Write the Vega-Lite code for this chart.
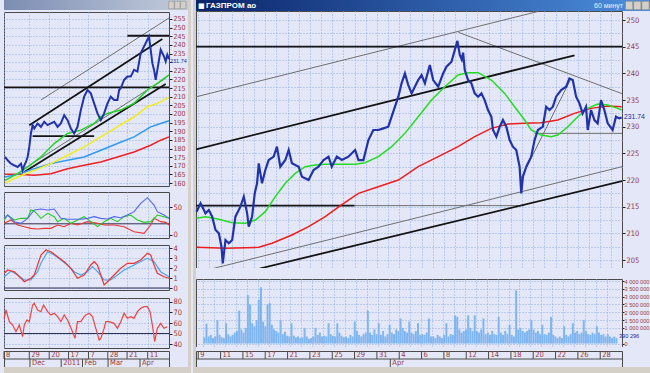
{
  "$schema": "https://vega.github.io/schema/vega-lite/v6.json",
  "background": "#E3E7F7",
  "padding": 0,
  "autosize": {"type": "pad"},
  "config": {
    "view": {"fill": "#E3E7F7", "stroke": "#4A4A4A", "strokeWidth": 1},
    "axis": {"labelFont": "Liberation Sans Narrow, DejaVu Sans Condensed, Liberation Sans, sans-serif", "labelFontSize": 7.5, "labelColor": "#9B3B3B", "tickColor": "#222222", "tickSize": 3, "domain": false, "gridColor": "#8FADE6", "gridDash": [1, 2], "gridOpacity": 1, "labelOverlap": false, "labelFlush": false, "labelBound": false, "labelPadding": 1},
    "text": {"font": "Liberation Sans Narrow, DejaVu Sans Condensed, Liberation Sans, sans-serif"},
    "locale": {"number": {"decimal": ".", "thousands": " ", "grouping": [3], "currency": ["", ""]}}
  },
  "datasets": {
    "rPrice": [{"t":-0.15,"v":214.06},{"t":0.21,"v":215.63},{"t":0.65,"v":213.75},{"t":0.95,"v":214.38},{"t":1.25,"v":213.13},{"t":1.55,"v":210.63},{"t":1.85,"v":210.0},{"t":2.08,"v":207.5},{"t":2.2,"v":204.38},{"t":2.44,"v":208.75},{"t":2.74,"v":208.13},{"t":3.04,"v":208.75},{"t":3.33,"v":213.13},{"t":3.78,"v":215.0},{"t":4.08,"v":216.88},{"t":4.38,"v":213.75},{"t":4.52,"v":211.25},{"t":4.82,"v":213.13},{"t":5.06,"v":217.5},{"t":5.27,"v":219.38},{"t":5.42,"v":223.13},{"t":5.71,"v":219.38},{"t":6.01,"v":221.88},{"t":6.31,"v":223.75},{"t":6.76,"v":224.38},{"t":7.05,"v":226.25},{"t":7.35,"v":222.5},{"t":7.8,"v":223.75},{"t":8.1,"v":225.63},{"t":8.39,"v":223.13},{"t":8.99,"v":222.5},{"t":9.29,"v":220.63},{"t":9.88,"v":220.0},{"t":10.33,"v":221.88},{"t":10.77,"v":222.5},{"t":11.22,"v":223.75},{"t":11.67,"v":224.38},{"t":11.96,"v":222.5},{"t":12.41,"v":224.38},{"t":12.86,"v":223.75},{"t":13.45,"v":224.38},{"t":14.05,"v":225.63},{"t":14.35,"v":223.75},{"t":14.79,"v":223.75},{"t":15.09,"v":226.25},{"t":15.24,"v":227.5},{"t":15.68,"v":229.38},{"t":16.13,"v":229.38},{"t":16.58,"v":229.69},{"t":17.02,"v":230.0},{"t":17.32,"v":231.88},{"t":17.62,"v":233.75},{"t":17.92,"v":235.63},{"t":18.21,"v":238.13},{"t":18.51,"v":240.0},{"t":18.81,"v":237.81},{"t":19.11,"v":236.25},{"t":19.4,"v":237.5},{"t":19.7,"v":238.75},{"t":20.0,"v":239.69},{"t":20.3,"v":238.13},{"t":20.74,"v":241.56},{"t":21.04,"v":238.75},{"t":21.49,"v":237.5},{"t":21.93,"v":240.0},{"t":22.23,"v":241.25},{"t":22.68,"v":242.19},{"t":22.98,"v":244.4},{"t":23.21,"v":246.1},{"t":23.42,"v":243.5},{"t":23.6,"v":242.6},{"t":23.72,"v":243.9},{"t":23.87,"v":240.63},{"t":24.17,"v":238.75},{"t":24.46,"v":238.13},{"t":24.76,"v":236.25},{"t":25.06,"v":235.63},{"t":25.36,"v":236.25},{"t":25.65,"v":235.0},{"t":25.95,"v":233.13},{"t":26.25,"v":231.88},{"t":26.4,"v":229.38},{"t":26.7,"v":228.13},{"t":27.0,"v":230.0},{"t":27.29,"v":231.25},{"t":27.59,"v":230.0},{"t":27.89,"v":227.5},{"t":28.18,"v":226.25},{"t":28.48,"v":225.63},{"t":28.78,"v":222.5},{"t":28.93,"v":217.5},{"t":29.08,"v":220.63},{"t":29.38,"v":222.5},{"t":29.82,"v":224.38},{"t":30.12,"v":227.5},{"t":30.42,"v":229.38},{"t":30.86,"v":230.0},{"t":31.16,"v":233.75},{"t":31.46,"v":233.13},{"t":31.76,"v":233.75},{"t":32.05,"v":235.63},{"t":32.5,"v":236.88},{"t":32.95,"v":237.5},{"t":33.24,"v":239.06},{"t":33.54,"v":238.75},{"t":33.84,"v":235.63},{"t":34.14,"v":234.38},{"t":34.43,"v":232.5},{"t":34.73,"v":233.75},{"t":34.88,"v":229.38},{"t":35.18,"v":233.13},{"t":35.48,"v":231.25},{"t":35.77,"v":230.63},{"t":36.07,"v":235.0},{"t":36.37,"v":233.13},{"t":36.67,"v":230.63},{"t":37.11,"v":229.38},{"t":37.41,"v":231.88},{"t":37.71,"v":231.56},{"t":37.92,"v":231.74}],
    "rGreen": [{"t":-0.15,"v":212.81},{"t":0.65,"v":213.13},{"t":1.85,"v":212.63},{"t":3.04,"v":212.0},{"t":4.23,"v":211.88},{"t":5.12,"v":212.5},{"t":6.01,"v":214.06},{"t":6.9,"v":216.88},{"t":7.8,"v":219.38},{"t":8.69,"v":221.25},{"t":9.58,"v":222.5},{"t":10.48,"v":222.81},{"t":11.37,"v":222.94},{"t":12.86,"v":222.94},{"t":14.05,"v":222.94},{"t":14.94,"v":223.25},{"t":16.13,"v":224.38},{"t":17.32,"v":226.25},{"t":18.51,"v":228.75},{"t":19.7,"v":231.88},{"t":20.89,"v":235.0},{"t":22.08,"v":237.5},{"t":23.27,"v":239.69},{"t":24.17,"v":240.13},{"t":25.06,"v":240.13},{"t":26.25,"v":238.75},{"t":27.44,"v":236.25},{"t":28.33,"v":233.75},{"t":29.23,"v":231.25},{"t":29.82,"v":229.38},{"t":30.71,"v":228.44},{"t":31.61,"v":228.13},{"t":32.2,"v":228.44},{"t":33.1,"v":230.0},{"t":33.99,"v":231.88},{"t":34.88,"v":233.44},{"t":35.77,"v":234.25},{"t":36.67,"v":234.06},{"t":37.56,"v":233.44},{"t":37.92,"v":233.13}],
    "rRed": [{"t":-0.15,"v":207.38},{"t":2.44,"v":207.19},{"t":5.42,"v":207.38},{"t":6.61,"v":208.13},{"t":8.39,"v":209.69},{"t":9.88,"v":211.25},{"t":11.37,"v":213.13},{"t":12.86,"v":215.4},{"t":14.35,"v":217.5},{"t":16.13,"v":218.75},{"t":17.92,"v":220.0},{"t":19.7,"v":222.5},{"t":21.49,"v":224.38},{"t":23.27,"v":226.25},{"t":24.76,"v":228.13},{"t":26.25,"v":229.69},{"t":27.74,"v":230.5},{"t":29.23,"v":230.63},{"t":30.71,"v":230.75},{"t":32.2,"v":231.25},{"t":33.69,"v":232.5},{"t":35.18,"v":233.44},{"t":36.67,"v":233.88},{"t":37.92,"v":233.75}],
    "rThick": [{"g":"a","t":-0.2,"v":245},{"g":"a","t":37.95,"v":245},{"g":"b","t":-0.2,"v":215.2},{"g":"b","t":14,"v":215.2},{"g":"c","t":-0.2,"v":225.75},{"g":"c","t":33.7,"v":243.4},{"g":"d","t":5.5,"v":203.4},{"g":"d","t":37.95,"v":219.8}],
    "rThin": [{"g":"e","t":14,"v":215.2},{"g":"e","t":29.2,"v":215.2},{"g":"f","t":0.36,"v":202.9},{"g":"f","t":37.95,"v":222.5},{"g":"h","t":-0.2,"v":235.6},{"g":"h","t":30.4,"v":251.6},{"g":"i","t":23.3,"v":247.7},{"g":"i","t":37.95,"v":236.2},{"g":"j","t":28.9,"v":220.3},{"g":"j","t":33.4,"v":239.1},{"g":"k","t":30.1,"v":228.75},{"g":"k","t":37.95,"v":228.75}],
    "vol": [
      {"t":0.1,"v":400000},{"t":0.3,"v":1270000},{"t":0.5,"v":450000},{"t":0.7,"v":550000},{"t":0.9,"v":350000},
      {"t":1.1,"v":450000},{"t":1.3,"v":1500000},{"t":1.5,"v":550000},{"t":1.7,"v":400000},{"t":1.9,"v":350000},
      {"t":2.1,"v":1300000},{"t":2.3,"v":600000},{"t":2.5,"v":450000},{"t":2.7,"v":550000},{"t":2.9,"v":700000},
      {"t":3.1,"v":800000},{"t":3.3,"v":2100000},{"t":3.5,"v":900000},{"t":3.7,"v":700000},{"t":3.9,"v":1000000},
      {"t":4.1,"v":3100000},{"t":4.3,"v":2500000},{"t":4.5,"v":1300000},{"t":4.7,"v":1100000},{"t":4.9,"v":1500000},
      {"t":5.1,"v":2800000},{"t":5.3,"v":3600000},{"t":5.5,"v":1400000},{"t":5.7,"v":1100000},{"t":5.9,"v":2500000},
      {"t":6.1,"v":2600000},{"t":6.3,"v":1200000},{"t":6.5,"v":900000},{"t":6.7,"v":800000},{"t":6.9,"v":700000},
      {"t":7.1,"v":1500000},{"t":7.3,"v":600000},{"t":7.5,"v":750000},{"t":7.7,"v":500000},{"t":7.9,"v":450000},
      {"t":8.1,"v":1300000},{"t":8.3,"v":500000},{"t":8.5,"v":400000},{"t":8.7,"v":450000},{"t":8.9,"v":350000},
      {"t":9.1,"v":400000},{"t":9.3,"v":1000000},{"t":9.5,"v":450000},{"t":9.7,"v":300000},{"t":9.9,"v":350000},
      {"t":10.1,"v":450000},{"t":10.3,"v":1000000},{"t":10.5,"v":550000},{"t":10.7,"v":700000},{"t":10.9,"v":450000},
      {"t":11.1,"v":500000},{"t":11.3,"v":450000},{"t":11.5,"v":1300000},{"t":11.7,"v":600000},{"t":11.9,"v":500000},
      {"t":12.1,"v":450000},{"t":12.3,"v":1300000},{"t":12.5,"v":700000},{"t":12.7,"v":500000},{"t":12.9,"v":400000},
      {"t":13.1,"v":450000},{"t":13.3,"v":350000},{"t":13.5,"v":550000},{"t":13.7,"v":450000},{"t":13.9,"v":1400000},
      {"t":14.1,"v":800000},{"t":14.3,"v":550000},{"t":14.5,"v":450000},{"t":14.7,"v":600000},{"t":14.9,"v":700000},
      {"t":15.1,"v":2100000},{"t":15.3,"v":700000},{"t":15.5,"v":550000},{"t":15.7,"v":900000},{"t":15.9,"v":600000},
      {"t":16.1,"v":1300000},{"t":16.3,"v":550000},{"t":16.5,"v":800000},{"t":16.7,"v":450000},{"t":16.9,"v":600000},
      {"t":17.1,"v":1200000},{"t":17.3,"v":700000},{"t":17.5,"v":600000},{"t":17.7,"v":900000},{"t":17.9,"v":800000},
      {"t":18.1,"v":1600000},{"t":18.3,"v":1000000},{"t":18.5,"v":800000},{"t":18.7,"v":700000},{"t":18.9,"v":1400000},
      {"t":19.1,"v":700000},{"t":19.3,"v":600000},{"t":19.5,"v":800000},{"t":19.7,"v":1300000},{"t":19.9,"v":550000},
      {"t":20.1,"v":600000},{"t":20.3,"v":550000},{"t":20.5,"v":700000},{"t":20.7,"v":1600000},{"t":20.9,"v":450000},
      {"t":21.1,"v":450000},{"t":21.3,"v":350000},{"t":21.5,"v":550000},{"t":21.7,"v":450000},{"t":21.9,"v":350000},
      {"t":22.1,"v":550000},{"t":22.3,"v":1300000},{"t":22.5,"v":450000},{"t":22.7,"v":600000},{"t":22.9,"v":550000},
      {"t":23.1,"v":1800000},{"t":23.3,"v":1700000},{"t":23.5,"v":900000},{"t":23.7,"v":700000},{"t":23.9,"v":800000},
      {"t":24.1,"v":900000},{"t":24.3,"v":1800000},{"t":24.5,"v":1000000},{"t":24.7,"v":800000},{"t":24.9,"v":1800000},
      {"t":25.1,"v":800000},{"t":25.3,"v":700000},{"t":25.5,"v":900000},{"t":25.7,"v":1600000},{"t":25.9,"v":600000},
      {"t":26.1,"v":700000},{"t":26.3,"v":550000},{"t":26.5,"v":800000},{"t":26.7,"v":600000},{"t":26.9,"v":550000},
      {"t":27.1,"v":1700000},{"t":27.3,"v":700000},{"t":27.5,"v":550000},{"t":27.7,"v":800000},{"t":27.9,"v":600000},
      {"t":28.1,"v":1200000},{"t":28.3,"v":550000},{"t":28.5,"v":450000},{"t":28.7,"v":3400000},{"t":28.9,"v":900000},
      {"t":29.1,"v":1000000},{"t":29.3,"v":800000},{"t":29.5,"v":700000},{"t":29.7,"v":800000},{"t":29.9,"v":900000},
      {"t":30.1,"v":1500000},{"t":30.3,"v":900000},{"t":30.5,"v":700000},{"t":30.7,"v":800000},{"t":30.9,"v":600000},
      {"t":31.1,"v":1200000},{"t":31.3,"v":600000},{"t":31.5,"v":550000},{"t":31.7,"v":700000},{"t":31.9,"v":1700000},
      {"t":32.1,"v":550000},{"t":32.3,"v":450000},{"t":32.5,"v":350000},{"t":32.7,"v":450000},{"t":32.9,"v":350000},
      {"t":33.1,"v":1100000},{"t":33.3,"v":550000},{"t":33.5,"v":450000},{"t":33.7,"v":600000},{"t":33.9,"v":1300000},
      {"t":34.1,"v":700000},{"t":34.3,"v":800000},{"t":34.5,"v":600000},{"t":34.7,"v":700000},{"t":34.9,"v":1500000},
      {"t":35.1,"v":800000},{"t":35.3,"v":600000},{"t":35.5,"v":550000},{"t":35.7,"v":700000},{"t":35.9,"v":600000},
      {"t":36.1,"v":1100000},{"t":36.3,"v":700000},{"t":36.5,"v":550000},{"t":36.7,"v":600000},{"t":36.9,"v":450000},
      {"t":37.1,"v":600000},{"t":37.3,"v":450000},{"t":37.5,"v":350000},{"t":37.7,"v":450000},{"t":37.9,"v":350000}
    ],
    "rDays": [{"t":0,"s":"9"},{"t":2,"s":"11"},{"t":4,"s":"15"},{"t":6,"s":"17"},{"t":8,"s":"21"},{"t":10,"s":"23"},{"t":12,"s":"25"},{"t":14,"s":"29"},{"t":16,"s":"31"},{"t":18,"s":"4"},{"t":20,"s":"6"},{"t":22,"s":"8"},{"t":24,"s":"12"},{"t":26,"s":"14"},{"t":28,"s":"18"},{"t":30,"s":"20"},{"t":32,"s":"22"},{"t":34,"s":"26"},{"t":36,"s":"28"}],
    "rMonths": [{"t":17.2,"s":"Apr"}],
    "lPrice": [{"t":0.75,"v":175.12},{"t":2.75,"v":173.18},{"t":5.25,"v":171.25},{"t":7.75,"v":170.28},{"t":10.25,"v":169.31},{"t":12.75,"v":171.25},{"t":14.0,"v":167.37},{"t":15.25,"v":170.28},{"t":16.5,"v":172.22},{"t":17.75,"v":175.12},{"t":19.0,"v":180.94},{"t":20.25,"v":188.7},{"t":21.5,"v":193.54},{"t":22.75,"v":191.6},{"t":25.25,"v":194.51},{"t":27.75,"v":192.57},{"t":30.25,"v":195.48},{"t":32.75,"v":193.54},{"t":35.25,"v":194.51},{"t":37.75,"v":195.48},{"t":40.25,"v":192.57},{"t":42.75,"v":194.51},{"t":45.25,"v":199.36},{"t":47.75,"v":196.45},{"t":50.25,"v":191.6},{"t":52.75,"v":188.7},{"t":55.25,"v":192.57},{"t":57.75,"v":202.27},{"t":60.25,"v":210.02},{"t":62.75,"v":213.9},{"t":65.25,"v":211.96},{"t":67.75,"v":206.14},{"t":70.25,"v":200.33},{"t":72.75,"v":196.45},{"t":75.25,"v":200.33},{"t":77.75,"v":206.14},{"t":80.25,"v":210.02},{"t":82.75,"v":208.08},{"t":85.25,"v":208.08},{"t":86.5,"v":213.9},{"t":87.75,"v":214.87},{"t":90.25,"v":219.72},{"t":92.75,"v":221.66},{"t":95.25,"v":221.66},{"t":97.75,"v":225.53},{"t":100.25,"v":224.56},{"t":102.75,"v":235.23},{"t":105.25,"v":239.1},{"t":107.75,"v":242.98},{"t":109.0,"v":244.92},{"t":110.25,"v":237.16},{"t":111.5,"v":229.41},{"t":112.75,"v":225.53},{"t":114.0,"v":219.72},{"t":115.25,"v":225.53},{"t":116.5,"v":231.35},{"t":117.75,"v":237.16},{"t":120.25,"v":233.29},{"t":121.5,"v":230.38},{"t":122.75,"v":234.26},{"t":124.0,"v":231.74}],
    "lGreen": [{"t":0.75,"v":161.55},{"t":10.25,"v":165.43},{"t":17.75,"v":169.31},{"t":27.75,"v":175.12},{"t":37.75,"v":182.88},{"t":47.75,"v":188.7},{"t":57.75,"v":190.63},{"t":67.75,"v":194.51},{"t":72.75,"v":198.39},{"t":77.75,"v":200.33},{"t":87.75,"v":202.27},{"t":97.75,"v":206.14},{"t":107.75,"v":213.9},{"t":115.25,"v":217.78},{"t":124,"v":222.62}],
    "lYellow": [{"t":0.75,"v":160.0},{"t":10.25,"v":163.49},{"t":22.75,"v":167.37},{"t":35.25,"v":171.25},{"t":47.75,"v":176.09},{"t":60.25,"v":180.94},{"t":72.75,"v":186.76},{"t":85.25,"v":192.57},{"t":97.75,"v":198.39},{"t":107.75,"v":204.2},{"t":115.25,"v":206.14},{"t":124,"v":209.63}],
    "lBlue": [{"t":0.75,"v":163.49},{"t":10.25,"v":165.04},{"t":22.75,"v":168.34},{"t":35.25,"v":171.25},{"t":47.75,"v":173.18},{"t":60.25,"v":175.12},{"t":72.75,"v":179.0},{"t":85.25,"v":182.88},{"t":97.75,"v":186.76},{"t":110.25,"v":192.57},{"t":117.75,"v":194.51},{"t":124,"v":196.06}],
    "lRed": [{"t":0.75,"v":165.04},{"t":10.25,"v":165.04},{"t":22.75,"v":164.46},{"t":35.25,"v":165.43},{"t":47.75,"v":168.34},{"t":60.25,"v":170.28},{"t":72.75,"v":172.22},{"t":85.25,"v":175.12},{"t":97.75,"v":178.03},{"t":110.25,"v":181.91},{"t":117.75,"v":184.82},{"t":124,"v":186.76}],
    "lThick": [{"g":"a","t":0,"v":215.45},{"g":"a","t":124,"v":215.45},{"g":"b","t":92.75,"v":245.31},{"g":"b","t":124,"v":245.31},{"g":"c","t":21.5,"v":187.14},{"g":"c","t":67.75,"v":187.14},{"g":"d","t":19,"v":193.54},{"g":"d","t":119,"v":243.37},{"g":"e","t":15.25,"v":166.4},{"g":"e","t":121.5,"v":217.39}],
    "lThin": [{"g":"f","t":27.75,"v":208.08},{"g":"f","t":124,"v":255.58},{"g":"g","t":15.25,"v":168.34},{"g":"g","t":121.5,"v":220.7}],
    "i1Blue": [{"t":0.25,"v":29.76},{"t":2.75,"v":35.71},{"t":7.75,"v":23.81},{"t":12.75,"v":20.83},{"t":17.75,"v":29.76},{"t":22.75,"v":44.64},{"t":27.75,"v":46.43},{"t":32.75,"v":44.64},{"t":37.75,"v":46.43},{"t":42.75,"v":29.76},{"t":47.75,"v":28.0},{"t":57.75,"v":28.0},{"t":62.75,"v":29.76},{"t":67.75,"v":32.74},{"t":72.75,"v":29.76},{"t":77.75,"v":28.57},{"t":82.75,"v":32.74},{"t":87.75,"v":30.95},{"t":92.75,"v":35.71},{"t":97.75,"v":41.67},{"t":102.75,"v":56.55},{"t":107.75,"v":66.67},{"t":112.75,"v":53.57},{"t":115.25,"v":41.67},{"t":120.25,"v":35.71},{"t":124,"v":29.76}],
    "i1Green": [{"t":0.25,"v":26.79},{"t":2.75,"v":35.71},{"t":7.75,"v":26.79},{"t":12.75,"v":29.76},{"t":17.75,"v":29.76},{"t":20.25,"v":44.64},{"t":22.75,"v":42.86},{"t":27.75,"v":29.76},{"t":32.75,"v":38.69},{"t":37.75,"v":32.74},{"t":40.25,"v":23.81},{"t":45.25,"v":29.76},{"t":50.25,"v":20.83},{"t":55.25,"v":26.79},{"t":60.25,"v":32.74},{"t":65.25,"v":23.81},{"t":70.25,"v":14.88},{"t":75.25,"v":23.81},{"t":80.25,"v":29.76},{"t":85.25,"v":23.81},{"t":90.25,"v":32.74},{"t":95.25,"v":35.71},{"t":100.25,"v":26.79},{"t":105.25,"v":22.62},{"t":110.25,"v":23.81},{"t":115.25,"v":35.71},{"t":120.25,"v":32.74},{"t":124,"v":29.76}],
    "i1Red": [{"t":0.25,"v":20.83},{"t":5.25,"v":26.79},{"t":10.25,"v":17.86},{"t":15.25,"v":14.88},{"t":20.25,"v":11.9},{"t":25.25,"v":10.71},{"t":30.25,"v":11.9},{"t":35.25,"v":11.9},{"t":40.25,"v":17.86},{"t":45.25,"v":14.88},{"t":50.25,"v":20.83},{"t":55.25,"v":17.86},{"t":62.75,"v":23.81},{"t":70.25,"v":20.83},{"t":75.25,"v":17.86},{"t":82.75,"v":17.86},{"t":90.25,"v":14.88},{"t":97.75,"v":5.95},{"t":105.25,"v":2.98},{"t":110.25,"v":17.86},{"t":112.75,"v":29.76},{"t":117.75,"v":23.81},{"t":121.5,"v":22.62},{"t":124,"v":17.86}],
    "i1Ref": [{"t":0,"v":20},{"t":124,"v":20}],
    "i2Red": [{"t":0.25,"v":1.47},{"t":2.75,"v":1.8},{"t":7.75,"v":1.63},{"t":12.75,"v":0.97},{"t":15.25,"v":0.63},{"t":20.25,"v":0.97},{"t":22.75,"v":1.3},{"t":25.25,"v":2.3},{"t":27.75,"v":3.3},{"t":31.5,"v":3.8},{"t":35.25,"v":3.63},{"t":40.25,"v":3.13},{"t":45.25,"v":2.63},{"t":50.25,"v":1.97},{"t":55.25,"v":0.97},{"t":60.25,"v":1.3},{"t":65.25,"v":2.3},{"t":67.75,"v":2.63},{"t":70.25,"v":2.3},{"t":72.75,"v":1.3},{"t":75.25,"v":0.3},{"t":77.75,"v":0.63},{"t":82.75,"v":1.3},{"t":87.75,"v":1.97},{"t":92.75,"v":2.47},{"t":97.75,"v":2.47},{"t":102.75,"v":2.8},{"t":107.75,"v":3.47},{"t":110.25,"v":3.3},{"t":112.75,"v":2.3},{"t":115.25,"v":1.47},{"t":120.25,"v":1.13},{"t":124,"v":0.97}],
    "i2Blue": [{"t":0.25,"v":1.13},{"t":5.25,"v":1.7},{"t":10.25,"v":1.3},{"t":15.25,"v":0.8},{"t":20.25,"v":0.8},{"t":25.25,"v":1.63},{"t":27.75,"v":2.47},{"t":32.75,"v":3.63},{"t":37.75,"v":3.3},{"t":42.75,"v":2.8},{"t":47.75,"v":2.3},{"t":52.75,"v":1.63},{"t":57.75,"v":1.3},{"t":62.75,"v":1.63},{"t":66.5,"v":2.13},{"t":70.25,"v":1.63},{"t":75.25,"v":0.8},{"t":80.25,"v":0.8},{"t":85.25,"v":1.3},{"t":90.25,"v":1.8},{"t":95.25,"v":2.13},{"t":100.25,"v":2.47},{"t":107.75,"v":2.97},{"t":112.75,"v":2.63},{"t":117.75,"v":1.63},{"t":124,"v":1.13}],
    "i2Ref": [{"t":0,"v":0},{"t":124,"v":0}],
    "i3Red": [{"t":0.1,"v":64.44},{"t":1.5,"v":72.38},{"t":4.0,"v":61.27},{"t":6.5,"v":58.1},{"t":9.0,"v":51.75},{"t":11.5,"v":58.1},{"t":14.0,"v":46.98},{"t":15.25,"v":58.1},{"t":17.25,"v":62.86},{"t":19.0,"v":61.27},{"t":21.5,"v":77.14},{"t":22.75,"v":78.73},{"t":25.25,"v":72.38},{"t":27.75,"v":70.79},{"t":29.75,"v":77.14},{"t":32.75,"v":70.79},{"t":35.25,"v":67.62},{"t":37.75,"v":69.21},{"t":40.25,"v":66.03},{"t":42.75,"v":61.27},{"t":45.25,"v":67.62},{"t":47.75,"v":62.86},{"t":51.5,"v":51.75},{"t":53.25,"v":45.4},{"t":55.25,"v":61.27},{"t":57.75,"v":61.27},{"t":60.25,"v":66.03},{"t":61.5,"v":67.62},{"t":64.0,"v":69.21},{"t":66.5,"v":66.03},{"t":69.0,"v":54.92},{"t":71.5,"v":43.81},{"t":72.75,"v":45.4},{"t":75.25,"v":54.92},{"t":76.5,"v":61.27},{"t":79.0,"v":61.27},{"t":82.75,"v":59.68},{"t":85.25,"v":54.92},{"t":87.75,"v":61.27},{"t":90.25,"v":69.21},{"t":92.75,"v":64.44},{"t":95.25,"v":66.03},{"t":97.75,"v":64.44},{"t":100.25,"v":70.79},{"t":102.75,"v":73.97},{"t":105.25,"v":75.56},{"t":107.75,"v":75.56},{"t":109.75,"v":70.79},{"t":111.5,"v":58.1},{"t":113.25,"v":42.22},{"t":115.25,"v":54.92},{"t":117.75,"v":59.68},{"t":120.25,"v":54.92},{"t":122.75,"v":56.51}],
    "i3Ref": [{"t":0,"v":50},{"t":124,"v":50}],
    "lDays": [{"t":0,"s":"8"},{"t":19,"s":"29"},{"t":34,"s":"20"},{"t":48.5,"s":"17"},{"t":63.5,"s":"7"},{"t":78,"s":"28"},{"t":92.5,"s":"21"},{"t":108,"s":"11"}],
    "lMonths": [{"t":19.5,"s":"Dec"},{"t":43,"s":"2011"},{"t":59,"s":"Feb"},{"t":78.2,"s":"Mar"},{"t":102.2,"s":"Apr"}]
  },
  "hconcat": [
    {
      "vconcat": [
        {
          "width": 184, "height": 10,
          "view": {"fill": null, "stroke": null},
          "data": {"values": [{}]},
          "layer": [
            {"mark": {"type": "rect", "color": "#D4D0C8"},
             "encoding": {"x": {"datum": 1, "type": "quantitative", "scale": {"domain": [0, 1], "nice": false}, "axis": null}, "x2": {"datum": 1.0163}, "y": {"datum": 1, "type": "quantitative", "scale": {"domain": [0, 1], "nice": false}, "axis": null}, "y2": {"datum": -36.3}}},
            {"mark": {"type": "rect", "color": {"gradient": "linear", "x1": 0, "x2": 1, "y1": 0, "y2": 0, "stops": [{"offset": 0, "color": "#7C8DB3"}, {"offset": 1, "color": "#C4CCDC"}]}},
             "encoding": {"x": {"datum": 0, "type": "quantitative"}, "x2": {"datum": 1}, "y": {"datum": 0, "type": "quantitative"}, "y2": {"datum": 1}}},
            {"mark": {"type": "rect", "color": "#D4D0C8", "stroke": "#808080", "strokeWidth": 0.5}, "encoding": {"x": {"datum": 0.895, "type": "quantitative"}, "x2": {"datum": 0.925}, "y": {"datum": 0.12, "type": "quantitative"}, "y2": {"datum": 0.88}}},
            {"mark": {"type": "rect", "color": "#D4D0C8", "stroke": "#808080", "strokeWidth": 0.5}, "encoding": {"x": {"datum": 0.927, "type": "quantitative"}, "x2": {"datum": 0.957}, "y": {"datum": 0.12, "type": "quantitative"}, "y2": {"datum": 0.88}}},
            {"mark": {"type": "rect", "color": "#D4D0C8", "stroke": "#808080", "strokeWidth": 0.5}, "encoding": {"x": {"datum": 0.959, "type": "quantitative"}, "x2": {"datum": 0.989}, "y": {"datum": 0.12, "type": "quantitative"}, "y2": {"datum": 0.88}}}
          ]
        },
        {"width": 1, "height": 2, "view": {"fill": null, "stroke": null}, "data": {"values": []}, "mark": "point"},
        {
          "width": 165, "height": 174,
          "encoding": {
            "x": {"field": "t", "type": "quantitative", "scale": {"domain": [0, 124], "nice": false, "zero": false}, "axis": {"title": null, "labels": false, "ticks": false, "grid": true, "values": [0, 19, 34, 48.5, 63.5, 78, 92.5, 108]}},
            "y": {"field": "v", "type": "quantitative", "scale": {"domain": [158.3, 259.05], "nice": false, "zero": false}, "axis": {"title": null, "orient": "right", "format": "d", "grid": true, "labelFontSize": 7, "values": [160, 165, 170, 175, 180, 185, 190, 195, 200, 205, 210, 215, 220, 225, 230, 235, 240, 245, 250, 255], "labelExpr": "datum.value == 230 ? '' : datum.label"}}
          },
          "layer": [
            {"data": {"name": "lThin"}, "mark": {"type": "line", "color": "#707070", "strokeWidth": 1, "clip": true}, "encoding": {"detail": {"field": "g", "type": "nominal"}}},
            {"data": {"name": "lThick"}, "mark": {"type": "line", "color": "#141414", "strokeWidth": 1.8, "clip": true}, "encoding": {"detail": {"field": "g", "type": "nominal"}}},
            {"data": {"name": "lRed"}, "mark": {"type": "line", "color": "#EE2222", "strokeWidth": 1.5}},
            {"data": {"name": "lBlue"}, "mark": {"type": "line", "color": "#2E9BF0", "strokeWidth": 1.5}},
            {"data": {"name": "lYellow"}, "mark": {"type": "line", "color": "#F2EC1A", "strokeWidth": 1.5}},
            {"data": {"name": "lGreen"}, "mark": {"type": "line", "color": "#22D422", "strokeWidth": 1.5}},
            {"data": {"name": "lPrice"}, "mark": {"type": "line", "color": "#2233AA", "strokeWidth": 2}},
            {"data": {"values": [{"t": 124, "v": 231.74, "s": "231.74"}]}, "mark": {"type": "text", "align": "left", "baseline": "middle", "dx": 1, "dy": 2, "fontSize": 5.5, "color": "#1A2A9A", "font": "Liberation Sans"}, "encoding": {"text": {"field": "s"}}}
          ]
        },
        {"width": 1, "height": 6, "view": {"fill": null, "stroke": null}, "data": {"values": []}, "mark": "point"},
        {
          "width": 165, "height": 46,
          "encoding": {
            "x": {"field": "t", "type": "quantitative", "scale": {"domain": [0, 124], "nice": false, "zero": false}, "axis": {"title": null, "labels": false, "ticks": false, "grid": true, "values": [0, 19, 34, 48.5, 63.5, 78, 92.5, 108]}},
            "y": {"field": "v", "type": "quantitative", "scale": {"domain": [-5.36, 76.8], "nice": false, "zero": false}, "axis": {"title": null, "orient": "right", "format": "d", "grid": true, "values": [0, 50]}}
          },
          "layer": [
            {"data": {"name": "i1Ref"}, "mark": {"type": "line", "color": "#303050", "strokeWidth": 1}},
            {"data": {"name": "i1Red"}, "mark": {"type": "line", "color": "#EE3333", "strokeWidth": 1.1}},
            {"data": {"name": "i1Green"}, "mark": {"type": "line", "color": "#22CC22", "strokeWidth": 1.1}},
            {"data": {"name": "i1Blue"}, "mark": {"type": "line", "color": "#5566EE", "strokeWidth": 1.1}}
          ]
        },
        {"width": 1, "height": 7, "view": {"fill": null, "stroke": null}, "data": {"values": []}, "mark": "point"},
        {
          "width": 165, "height": 45,
          "encoding": {
            "x": {"field": "t", "type": "quantitative", "scale": {"domain": [0, 124], "nice": false, "zero": false}, "axis": {"title": null, "labels": false, "ticks": false, "grid": true, "values": [0, 19, 34, 48.5, 63.5, 78, 92.5, 108]}},
            "y": {"field": "v", "type": "quantitative", "scale": {"domain": [-0.2, 4.3], "nice": false, "zero": false}, "axis": {"title": null, "orient": "right", "format": "d", "grid": true, "values": [0, 1, 2, 3, 4]}}
          },
          "layer": [
            {"data": {"name": "i2Ref"}, "mark": {"type": "line", "color": "#303050", "strokeWidth": 1}},
            {"data": {"name": "i2Blue"}, "mark": {"type": "line", "color": "#4BA6EE", "strokeWidth": 1.2}},
            {"data": {"name": "i2Red"}, "mark": {"type": "line", "color": "#EE3333", "strokeWidth": 1.2}}
          ]
        },
        {"width": 1, "height": 8, "view": {"fill": null, "stroke": null}, "data": {"values": []}, "mark": "point"},
        {
          "width": 165, "height": 50,
          "encoding": {
            "x": {"field": "t", "type": "quantitative", "scale": {"domain": [0, 124], "nice": false, "zero": false}, "axis": {"title": null, "labels": false, "ticks": false, "grid": true, "values": [0, 19, 34, 48.5, 63.5, 78, 92.5, 108]}},
            "y": {"field": "v", "type": "quantitative", "scale": {"domain": [36.2, 83.8], "nice": false, "zero": false}, "axis": {"title": null, "orient": "right", "format": "d", "grid": true, "values": [40, 50, 60, 70, 80]}}
          },
          "layer": [
            {"data": {"name": "i3Ref"}, "mark": {"type": "line", "color": "#303050", "strokeWidth": 1}},
            {"data": {"name": "i3Red"}, "mark": {"type": "line", "color": "#EE4444", "strokeWidth": 1.2}}
          ]
        },
        {"width": 1, "height": 3, "view": {"fill": null, "stroke": null}, "data": {"values": []}, "mark": "point"},
        {
          "width": 165, "height": 16,
          "layer": [
            {"data": {"values": [{}]}, "mark": {"type": "rule", "color": "#4A4A4A"}, "encoding": {"y": {"datum": 1, "type": "quantitative", "scale": {"domain": [0, 2], "nice": false}, "axis": null}}},
            {"data": {"name": "lDays"}, "mark": {"type": "rule", "color": "#4A4A4A"}, "encoding": {"x": {"field": "t", "type": "quantitative", "scale": {"domain": [0, 124], "nice": false, "zero": false}, "axis": null}, "y": {"datum": 1, "type": "quantitative"}, "y2": {"datum": 2}}},
            {"data": {"name": "lDays"}, "mark": {"type": "text", "align": "left", "baseline": "middle", "dx": 2, "fontSize": 7.5, "color": "#9B3B3B"}, "encoding": {"x": {"field": "t", "type": "quantitative"}, "y": {"datum": 1.5, "type": "quantitative"}, "text": {"field": "s"}}},
            {"data": {"name": "lMonths"}, "mark": {"type": "rule", "color": "#4A4A4A"}, "encoding": {"x": {"field": "t", "type": "quantitative"}, "y": {"datum": 0, "type": "quantitative"}, "y2": {"datum": 1}}},
            {"data": {"name": "lMonths"}, "mark": {"type": "text", "align": "left", "baseline": "middle", "dx": 2, "fontSize": 7.5, "color": "#9B3B3B"}, "encoding": {"x": {"field": "t", "type": "quantitative"}, "y": {"datum": 0.5, "type": "quantitative"}, "text": {"field": "s"}}}
          ]
        },
        {"width": 184, "height": 6, "view": {"fill": "#D4D0C8", "stroke": null}, "data": {"values": []}, "mark": "point"}
      ],
      "spacing": 0,
      "bounds": "flush"
    },
    {
      "vconcat": [
        {
          "width": 454, "height": 11,
          "view": {"fill": null, "stroke": null},
          "data": {"values": [{}]},
          "layer": [
            {"mark": {"type": "rect", "color": "#D4D0C8"},
             "encoding": {"x": {"datum": -0.0066, "type": "quantitative", "scale": {"domain": [0, 1], "nice": false}, "axis": null}, "x2": {"datum": 0}, "y": {"datum": 1, "type": "quantitative", "scale": {"domain": [0, 1], "nice": false}, "axis": null}, "y2": {"datum": -32.9}}},
            {"mark": {"type": "rect", "color": {"gradient": "linear", "x1": 0, "x2": 1, "y1": 0, "y2": 0, "stops": [{"offset": 0, "color": "#0A246A"}, {"offset": 1, "color": "#4C8FDE"}]}},
             "encoding": {"x": {"datum": 0, "type": "quantitative"}, "x2": {"datum": 1}, "y": {"datum": 0, "type": "quantitative"}, "y2": {"datum": 1}}},
            {"mark": {"type": "text", "align": "left", "baseline": "middle", "dx": 2, "fontSize": 7, "color": "#FFFFFF", "font": "DejaVu Sans"}, "encoding": {"x": {"datum": 0, "type": "quantitative"}, "y": {"datum": 0.5, "type": "quantitative"}, "text": {"value": "■"}}},
            {"mark": {"type": "text", "align": "left", "baseline": "middle", "dx": 10, "dy": 0.5, "fontSize": 8, "fontWeight": "bold", "color": "#FFFFFF", "font": "Liberation Sans"}, "encoding": {"x": {"datum": 0, "type": "quantitative"}, "y": {"datum": 0.5, "type": "quantitative"}, "text": {"value": "ГАЗПРОМ ао"}}},
            {"mark": {"type": "text", "align": "right", "baseline": "middle", "dx": -2, "dy": 0.5, "fontSize": 7, "color": "#F0F0FF", "font": "Liberation Sans"}, "encoding": {"x": {"datum": 0.945, "type": "quantitative"}, "y": {"datum": 0.5, "type": "quantitative"}, "text": {"value": "60 минут"}}},
            {"mark": {"type": "rect", "color": "#D4D0C8", "stroke": "#808080", "strokeWidth": 0.5}, "encoding": {"x": {"datum": 0.946, "type": "quantitative"}, "x2": {"datum": 0.962}, "y": {"datum": 0.12, "type": "quantitative"}, "y2": {"datum": 0.88}}},
            {"mark": {"type": "rect", "color": "#D4D0C8", "stroke": "#808080", "strokeWidth": 0.5}, "encoding": {"x": {"datum": 0.964, "type": "quantitative"}, "x2": {"datum": 0.98}, "y": {"datum": 0.12, "type": "quantitative"}, "y2": {"datum": 0.88}}},
            {"mark": {"type": "rect", "color": "#D4D0C8", "stroke": "#808080", "strokeWidth": 0.5}, "encoding": {"x": {"datum": 0.982, "type": "quantitative"}, "x2": {"datum": 0.998}, "y": {"datum": 0.12, "type": "quantitative"}, "y2": {"datum": 0.88}}}
          ]
        },
        {
          "width": 426, "height": 257,
          "encoding": {
            "x": {"field": "t", "type": "quantitative", "scale": {"domain": [-0.2, 37.95], "nice": false, "zero": false}, "axis": {"title": null, "labels": false, "ticks": false, "grid": true, "values": [0,1,2,3,4,5,6,7,8,9,10,11,12,13,14,15,16,17,18,19,20,21,22,23,24,25,26,27,28,29,30,31,32,33,34,35,36,37]}},
            "y": {"field": "v", "type": "quantitative", "scale": {"domain": [203.5, 251.7], "nice": false, "zero": false}, "axis": {"title": null, "orient": "right", "format": "d", "grid": true, "values": [205, 207.5, 210, 212.5, 215, 217.5, 220, 222.5, 225, 227.5, 230, 232.5, 235, 237.5, 240, 242.5, 245, 247.5, 250], "labelExpr": "datum.value % 5 == 0 ? datum.label : ''", "tickOpacity": {"condition": {"test": "datum.value % 5 == 0", "value": 1}, "value": 0}}}
          },
          "layer": [
            {"data": {"name": "rThin"}, "mark": {"type": "line", "color": "#707070", "strokeWidth": 1, "clip": true}, "encoding": {"detail": {"field": "g", "type": "nominal"}}},
            {"data": {"name": "rThick"}, "mark": {"type": "line", "color": "#141414", "strokeWidth": 1.8, "clip": true}, "encoding": {"detail": {"field": "g", "type": "nominal"}}},
            {"data": {"name": "rRed"}, "mark": {"type": "line", "color": "#EE1C1C", "strokeWidth": 1.5}},
            {"data": {"name": "rGreen"}, "mark": {"type": "line", "color": "#22DD22", "strokeWidth": 1.5}},
            {"data": {"name": "rPrice"}, "mark": {"type": "line", "color": "#2233AA", "strokeWidth": 2.2}},
            {"data": {"values": [{"t": 37.95, "v": 231.74, "s": "231.74"}]}, "mark": {"type": "text", "align": "left", "baseline": "middle", "dx": 2, "fontSize": 6.8, "color": "#1A2A9A", "font": "Liberation Sans"}, "encoding": {"text": {"field": "s"}}}
          ]
        },
        {"width": 454, "height": 11, "view": {"fill": "#E3E7F7", "stroke": null}, "data": {"values": []}, "mark": "point"},
        {
          "width": 426, "height": 68,
          "encoding": {
            "x": {"field": "t", "type": "quantitative", "scale": {"domain": [-0.2, 37.95], "nice": false, "zero": false}, "axis": {"title": null, "labels": false, "ticks": false, "grid": true, "values": [0,1,2,3,4,5,6,7,8,9,10,11,12,13,14,15,16,17,18,19,20,21,22,23,24,25,26,27,28,29,30,31,32,33,34,35,36,37]}},
            "y": {"field": "v", "type": "quantitative", "scale": {"domain": [-224000, 4128000], "nice": false, "zero": false}, "axis": {"title": null, "orient": "right", "format": ",d", "grid": true, "labelFontSize": 5.6, "labelFont": "Liberation Sans", "tickSize": 2, "labelPadding": 0, "values": [0, 1000000, 1500000, 2000000, 2500000, 3000000, 3500000, 4000000]}}
          },
          "layer": [
            {"data": {"name": "vol"}, "mark": {"type": "bar", "width": 2, "color": "#80B6F0"}, "encoding": {"y2": {"datum": 0}}},
            {"data": {"values": [{"t": 37.95, "v": 470000, "s": "390 296"}]}, "mark": {"type": "text", "align": "left", "baseline": "middle", "dx": 2, "fontSize": 5.6, "color": "#1A2A9A", "font": "Liberation Sans"}, "encoding": {"text": {"field": "s"}}}
          ]
        },
        {"width": 454, "height": 4, "view": {"fill": "#E3E7F7", "stroke": null}, "data": {"values": []}, "mark": "point"},
        {
          "width": 426, "height": 16,
          "layer": [
            {"data": {"values": [{}]}, "mark": {"type": "rule", "color": "#4A4A4A"}, "encoding": {"y": {"datum": 1, "type": "quantitative", "scale": {"domain": [0, 2], "nice": false}, "axis": null}}},
            {"data": {"name": "rDays"}, "mark": {"type": "rule", "color": "#4A4A4A"}, "encoding": {"x": {"field": "t", "type": "quantitative", "scale": {"domain": [-0.2, 37.95], "nice": false, "zero": false}, "axis": null}, "y": {"datum": 1, "type": "quantitative"}, "y2": {"datum": 2}}},
            {"data": {"name": "rDays"}, "mark": {"type": "text", "align": "left", "baseline": "middle", "dx": 2, "fontSize": 7.5, "color": "#9B3B3B"}, "encoding": {"x": {"field": "t", "type": "quantitative"}, "y": {"datum": 1.5, "type": "quantitative"}, "text": {"field": "s"}}},
            {"data": {"name": "rMonths"}, "mark": {"type": "rule", "color": "#4A4A4A"}, "encoding": {"x": {"field": "t", "type": "quantitative"}, "y": {"datum": 0, "type": "quantitative"}, "y2": {"datum": 1}}},
            {"data": {"name": "rMonths"}, "mark": {"type": "text", "align": "left", "baseline": "middle", "dx": 2, "fontSize": 7.5, "color": "#9B3B3B"}, "encoding": {"x": {"field": "t", "type": "quantitative"}, "y": {"datum": 0.5, "type": "quantitative"}, "text": {"field": "s"}}}
          ]
        },
        {"width": 454, "height": 6, "view": {"fill": "#D4D0C8", "stroke": null}, "data": {"values": []}, "mark": "point"}
      ],
      "spacing": 0,
      "bounds": "flush"
    }
  ],
  "spacing": 0,
  "bounds": "full"
}
